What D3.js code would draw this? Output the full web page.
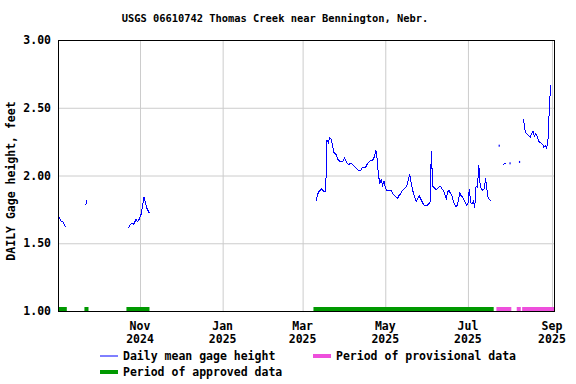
<!DOCTYPE html>
<html lang="en">
<head>
<meta charset="utf-8">
<title>USGS 06610742 Thomas Creek near Bennington, Nebr.</title>
<style>
    body { margin: 0; background: white; }
    text { font-family: "DejaVu Sans Mono", monospace; font-weight: bold; fill: black; }
    .grid line { stroke: #cccccc; stroke-width: 1; }
    .grid path { display: none; }
</style>
</head>
<body>
<svg width="576" height="384"></svg>
<script src="https://d3js.org/d3.v7.min.js"></script>
<script>
    // daily mean gage height, feet -- one array per unbroken run of data
    var runSep2024 = [1.70, 1.68, 1.66, 1.66, 1.64, 1.62];
    var runSep22 = [1.78, 1.82];
    var runOct2024 = [1.61, 1.62, 1.64, 1.65, 1.64, 1.65, 1.68, 1.66, 1.67, 1.69, 1.72, 1.78, 1.84, 1.80, 1.76, 1.74, 1.72];
    var runSpring2025 = [
        1.81, 1.86, 1.88, 1.89, 1.90, 1.89, 1.88, 1.88, 2.26, 2.24,
        2.28, 2.27, 2.23, 2.17, 2.16, 2.15, 2.12, 2.11, 2.10, 2.10,
        2.11, 2.13, 2.11, 2.09, 2.08, 2.09, 2.09, 2.08, 2.07, 2.06,
        2.05, 2.04, 2.04, 2.04, 2.06, 2.06, 2.06, 2.07, 2.09, 2.10,
        2.11, 2.11, 2.12, 2.14, 2.19, 2.12, 2.00, 1.94, 1.97, 1.93,
        1.96, 1.91, 1.89, 1.89, 1.89, 1.89, 1.88, 1.86, 1.85, 1.84,
        1.83, 1.85, 1.86, 1.88, 1.89, 1.90, 1.91, 1.93, 1.97, 2.01,
        1.95, 1.90, 1.86, 1.83, 1.81, 1.83, 1.85, 1.83, 1.81, 1.79,
        1.78, 1.78, 1.78, 1.79, 1.80, 2.18, 1.92, 1.91, 1.90, 1.90,
        1.91, 1.92, 1.92, 1.90, 1.89, 1.86, 1.83, 1.88, 1.89, 1.87,
        1.86, 1.82, 1.79, 1.77, 1.78, 1.82, 1.87, 1.85, 1.84, 1.82,
        1.80, 1.78, 1.79, 1.90, 1.80, 1.79, 1.81, 1.76, 1.92, 1.91,
        2.08, 1.93, 1.90, 1.89, 1.90, 1.98, 1.90, 1.83, 1.82, 1.81
    ];
    var runJul24 = [2.22];
    var runJul27 = [2.08, 2.09, 2.09];
    var runAug1 = [2.09];
    var runAug8 = [2.10];
    var runAug2025 = [2.42, 2.34, 2.31, 2.30, 2.29, 2.28, 2.31, 2.33, 2.29, 2.31,
        2.29, 2.26, 2.24, 2.24, 2.23, 2.21, 2.22, 2.20, 2.25, 2.48, 2.67];

    var runs = [
        ['2024-09-02', runSep2024],
        ['2024-09-22', runSep22],
        ['2024-10-23', runOct2024],
        ['2025-03-11', runSpring2025],
        ['2025-07-24', runJul24],
        ['2025-07-27', runJul27],
        ['2025-08-01', runAug1],
        ['2025-08-08', runAug8],
        ['2025-08-11', runAug2025]
    ];

    var approvedPeriods = [
        ['2024-09-01T12:00', '2024-09-08'],
        ['2024-09-21', '2024-09-24'],
        ['2024-10-22', '2024-11-08'],
        ['2025-03-09', '2025-07-20']
    ];
    var provisionalPeriods = [
        ['2025-07-22', '2025-08-02'],
        ['2025-08-06', '2025-08-09'],
        ['2025-08-10', '2025-09-02T12:00']
    ];
    var yTicks = [1.0, 1.5, 2.0, 2.5, 3.0];

    var svg = d3.select('svg');
    var margin = { left: 58, right: 22, top: 40, bottom: 73 };
    var W = 576 - margin.left - margin.right,
        H = 384 - margin.top - margin.bottom;

    var parse = d3.isoParse;
    var x = d3.scaleTime()
        .domain([parse('2024-09-01T12:00'), parse('2025-09-02T12:00')])
        .range([0, W]);
    var y = d3.scaleLinear().domain([1, 3]).range([H, 0]);

    svg.append('text')
        .attr('x', 275).attr('y', 22)
        .attr('text-anchor', 'middle')
        .style('font-size', '10.4px')
        .text('USGS 06610742 Thomas Creek near Bennington, Nebr.');

    var g = svg.append('g').attr('transform', `translate(${margin.left},${margin.top})`);

    // grid
    g.append('g').attr('class', 'grid')
        .attr('transform', `translate(0,${H})`)
        .call(d3.axisBottom(x).ticks(d3.timeMonth.every(2)).tickSize(-H).tickFormat(''));
    g.append('g').attr('class', 'grid')
        .call(d3.axisLeft(y).tickValues(yTicks).tickSize(-W).tickFormat(''));

    // y labels
    g.selectAll('.ylab').data(yTicks).enter().append('text')
        .attr('x', -7).attr('y', d => y(d)).attr('dy', '0.36em')
        .attr('text-anchor', 'end')
        .style('font-size', '11.5px')
        .text(d3.format('.2f'));

    // x labels, month over year
    var fmtM = d3.timeFormat('%b'), fmtY = d3.timeFormat('%Y');
    var xl = g.selectAll('.xlab').data(x.ticks(d3.timeMonth.every(2))).enter().append('text')
        .attr('text-anchor', 'middle')
        .style('font-size', '11.5px');
    xl.append('tspan').attr('x', d => x(d)).attr('y', H + 19).text(fmtM);
    xl.append('tspan').attr('x', d => x(d)).attr('y', H + 32).text(fmtY);

    svg.append('text')
        .attr('transform', 'translate(15,181) rotate(-90)')
        .attr('text-anchor', 'middle')
        .style('font-size', '11.5px')
        .text('DAILY Gage height, feet');

    // approval bars along the bottom
    function bars(periods, color) {
        g.append('g').selectAll('rect').data(periods).enter().append('rect')
            .attr('x', d => x(parse(d[0])))
            .attr('width', d => x(parse(d[1])) - x(parse(d[0])))
            .attr('y', H - 4).attr('height', 4)
            .attr('fill', color);
    }
    bars(approvedPeriods, '#009900');
    bars(provisionalPeriods, '#ee4fdc');

    // gage height line
    var line = d3.line().x(d => x(d.date)).y(d => y(d.value));
    runs.forEach(function (r) {
        var start = parse(r[0]);
        var pts = r[1].map((v, i) => ({ date: d3.timeDay.offset(start, i), value: v }));
        if (pts.length > 1) {
            g.append('path').datum(pts)
                .attr('d', line)
                .attr('fill', 'none')
                .attr('stroke', '#0000ff')
                .attr('stroke-width', 1)
                .attr('shape-rendering', 'crispEdges');
        } else {
            g.append('rect')
                .attr('x', x(pts[0].date) - 0.5).attr('y', y(pts[0].value) - 1)
                .attr('width', 1.2).attr('height', 2)
                .attr('fill', '#0000ff');
        }
    });

    // frame
    g.append('rect')
        .attr('x', 0.5).attr('y', 0.5)
        .attr('width', W).attr('height', H)
        .attr('fill', 'none').attr('stroke', 'black').attr('stroke-width', 1);

    // legend
    var leg = svg.append('g').style('font-size', '11.5px');
    var items = [
        { x: 100, y: 356, color: '#0000ff', w: 1, label: 'Daily mean gage height' },
        { x: 313, y: 356, color: '#ee4fdc', w: 4, label: 'Period of provisional data' },
        { x: 100, y: 372, color: '#009900', w: 4, label: 'Period of approved data' }
    ];
    items.forEach(function (it) {
        leg.append('line')
            .attr('x1', it.x).attr('x2', it.x + 18)
            .attr('y1', it.y).attr('y2', it.y)
            .attr('stroke', it.color).attr('stroke-width', it.w);
        leg.append('text')
            .attr('x', it.x + 23).attr('y', it.y).attr('dy', '0.36em')
            .text(it.label);
    });
</script>
</body>
</html>
